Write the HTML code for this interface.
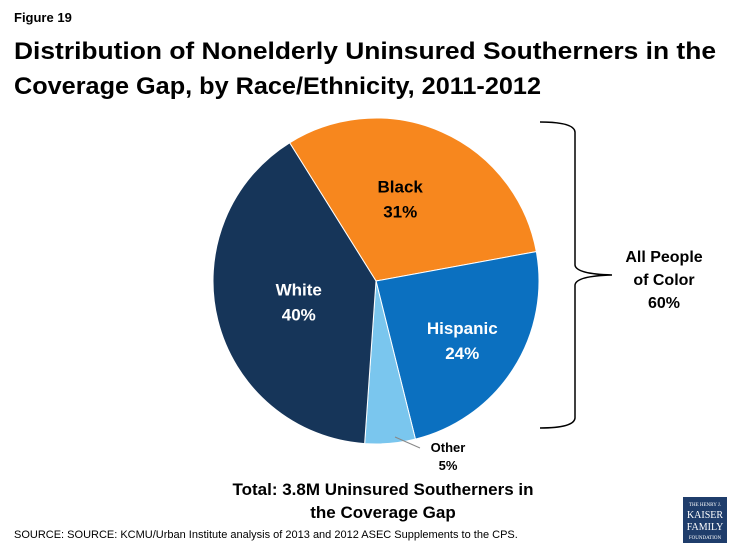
<!DOCTYPE html>
<html><head><meta charset="utf-8"><style>
html,body{margin:0;padding:0;background:#fff}
svg{display:block;font-family:"Liberation Sans",sans-serif}
</style></head><body>
<svg width="735" height="551" viewBox="0 0 735 551">
<text x="14" y="22" font-size="13" font-weight="bold" fill="#000">Figure 19</text>
<text x="14" y="59" font-size="24" font-weight="bold" fill="#000" textLength="702" lengthAdjust="spacingAndGlyphs">Distribution of Nonelderly Uninsured Southerners  in the</text>
<text x="14" y="94" font-size="24" font-weight="bold" fill="#000" textLength="527" lengthAdjust="spacingAndGlyphs">Coverage Gap, by Race/Ethnicity, 2011-2012</text>
<g id="pie"></g>
<path d="M540,122 Q574,122 575,132 L575,265 Q576,274 612,275 Q576,276 575,285 L575,418 Q574,428 540,428" fill="none" stroke="#000" stroke-width="1.5"/>
<g font-size="16" font-weight="bold" text-anchor="middle">
<text x="664" y="262">All People</text><text x="664" y="285">of Color</text><text x="664" y="308">60%</text></g>
<line x1="420" y1="448" x2="395" y2="437" stroke="#888" stroke-width="1"/>
<g font-size="13" font-weight="bold" text-anchor="middle">
<text x="448" y="452">Other</text><text x="448" y="470">5%</text></g>
<g font-size="17" font-weight="bold" text-anchor="middle">
<text x="383" y="495">Total: 3.8M Uninsured Southerners in</text><text x="383" y="518">the Coverage Gap</text></g>
<text x="14" y="538" font-size="11" fill="#000">SOURCE: SOURCE: KCMU/Urban Institute analysis of 2013 and 2012 ASEC Supplements to the CPS.</text>
<g>
<rect x="683" y="497" width="44" height="46" fill="#1f3d6b"/>
<g fill="#fff" text-anchor="middle" font-family="Liberation Serif,serif">
<text x="705" y="506" font-size="5">THE HENRY J.</text>
<text x="705" y="518" font-size="10">KAISER</text>
<text x="705" y="530" font-size="10">FAMILY</text>
<text x="705" y="539" font-size="5">FOUNDATION</text></g></g>
</svg>
<script>
const categories=["Black","Hispanic","Other","White"];
const values=[31,24,5,40];
const colors=["#f7871e","#0b70c0","#7ac6ee","#163559"];
const startDeg=-32;
const cx=376,cy=281,r=163;
const labelShift={Black:[-10,-7],Hispanic:[15,11],White:[5,-2]};
const g=document.getElementById('pie');
const ns="http://www.w3.org/2000/svg";
const total=values.reduce((a,b)=>a+b,0);
function pt(deg,rad){const a=deg*Math.PI/180;return [cx+rad*Math.sin(a),cy-rad*Math.cos(a)];}
let a0=startDeg;
values.forEach((v,i)=>{
  const sweep=v/total*360,a1=a0+sweep;
  const p0=pt(a0,r),p1=pt(a1,r);
  const p=document.createElementNS(ns,'path');
  p.setAttribute('d',`M${cx},${cy}L${p0[0]},${p0[1]}A${r},${r} 0 ${sweep>180?1:0} 1 ${p1[0]},${p1[1]}Z`);
  p.setAttribute('fill',colors[i]);
  p.setAttribute('stroke','#fff');p.setAttribute('stroke-width','1');
  
  
  g.appendChild(p);
  if(categories[i]!=="Other"){
    const m=pt(a0+sweep/2,r*0.52);
    const sh=labelShift[categories[i]]||[0,0];
    const x=m[0]+sh[0],y=m[1]+sh[1];
    const t=document.createElementNS(ns,'text');
    t.setAttribute('x',x);t.setAttribute('y',y-4);
    t.setAttribute('text-anchor','middle');t.setAttribute('font-size','17');t.setAttribute('font-weight','bold');
    t.setAttribute('fill',categories[i]==="Black"?'#000':'#fff');
    
    
    const s1=document.createElementNS(ns,'tspan');s1.setAttribute('x',x);s1.textContent=categories[i];
    const s2=document.createElementNS(ns,'tspan');s2.setAttribute('x',x);s2.setAttribute('dy','25');s2.textContent=values[i]+'%';
    t.appendChild(s1);t.appendChild(s2);g.appendChild(t);
  }
  a0=a1;
});
</script>
</body></html>
